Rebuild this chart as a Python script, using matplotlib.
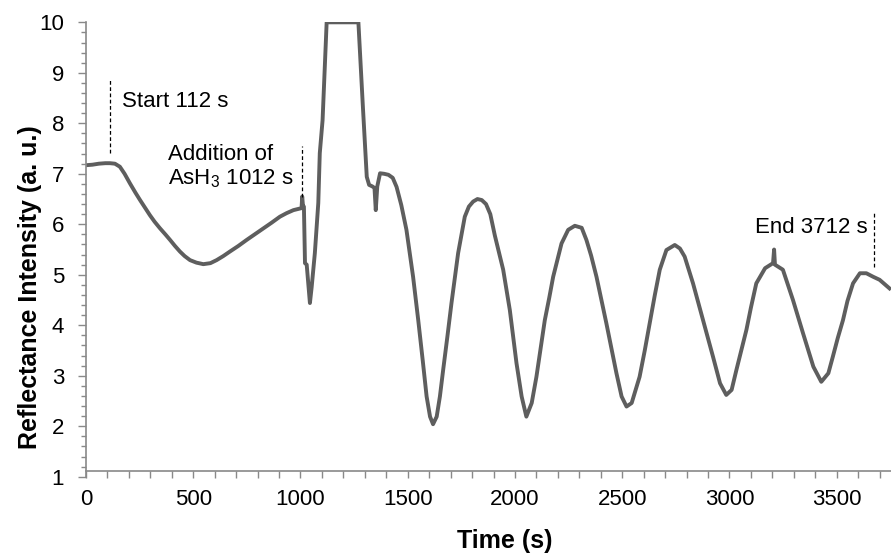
import matplotlib
matplotlib.use('Agg')
import matplotlib.pyplot as plt
from matplotlib.ticker import MultipleLocator

plt.rcParams['font.family'] = ['Liberation Sans', 'DejaVu Sans']
plt.rcParams['mathtext.default'] = 'regular'

# reflectance trace (time in s, intensity in a.u.)
time = [0, 30, 60, 90, 112, 135, 158, 180, 205, 230, 252, 275, 298, 320,
        345, 370, 392, 415, 438, 460, 485, 515, 547, 580, 609, 640, 671,
        710, 749, 790, 827, 865, 904, 935, 967, 1005, 1008, 1012, 1016,
        1021, 1029, 1037, 1044, 1052, 1067, 1083, 1090, 1103, 1122, 1270,
        1290, 1309, 1320, 1335, 1345, 1351, 1358, 1371, 1390, 1410, 1430,
        1448, 1470, 1494, 1525, 1549, 1570, 1588, 1604, 1618, 1635, 1650,
        1665, 1685, 1704, 1735, 1766, 1785, 1805, 1825, 1845, 1865, 1885,
        1906, 1925, 1945, 1976, 2007, 2031, 2053, 2078, 2100, 2120, 2139,
        2160, 2178, 2217, 2248, 2279, 2311, 2333, 2355, 2380, 2426, 2473,
        2497, 2520, 2544, 2581, 2605, 2628, 2652, 2675, 2706, 2745, 2769,
        2791, 2830, 2877, 2923, 2956, 2985, 3010, 3032, 3055, 3079, 3100,
        3125, 3166, 3203, 3208, 3212, 3249, 3296, 3343, 3391, 3428, 3461,
        3482, 3505, 3529, 3550, 3576, 3608, 3638, 3670, 3700, 3746]
intensity = [7.17, 7.18, 7.2, 7.21, 7.21, 7.2, 7.14, 7.0, 6.81, 6.63, 6.48,
             6.33, 6.18, 6.05, 5.92, 5.8, 5.69, 5.57, 5.46, 5.37, 5.29, 5.24,
             5.21, 5.23, 5.29, 5.37, 5.46, 5.57, 5.69, 5.81, 5.92, 6.03,
             6.15, 6.22, 6.28, 6.32, 6.55, 6.35, 6.35, 5.23, 5.2, 4.8, 4.44,
             4.75, 5.43, 6.42, 7.41, 8.06, 10.0, 10.0, 8.4, 6.94, 6.78, 6.75,
             6.72, 6.28, 6.75, 7.01, 7.0, 6.98, 6.92, 6.74, 6.38, 5.89, 4.96,
             4.1, 3.3, 2.59, 2.19, 2.04, 2.19, 2.59, 3.11, 3.78, 4.44, 5.43,
             6.15, 6.35, 6.45, 6.5, 6.48, 6.4, 6.2, 5.78, 5.45, 5.1, 4.3,
             3.25, 2.59, 2.19, 2.46, 2.98, 3.55, 4.1, 4.55, 4.96, 5.62, 5.89,
             5.97, 5.93, 5.69, 5.38, 4.96, 4.04, 3.05, 2.59, 2.39, 2.46, 2.98,
             3.5, 4.04, 4.6, 5.1, 5.49, 5.59, 5.52, 5.36, 4.83, 4.1, 3.38,
             2.85, 2.62, 2.72, 3.11, 3.5, 3.91, 4.35, 4.83, 5.13, 5.23, 5.5,
             5.2, 5.1, 4.5, 3.84, 3.18, 2.88, 3.05, 3.38, 3.75, 4.1, 4.48,
             4.83, 5.03, 5.03, 4.96, 4.9, 4.73]

# marker lines: x, y bottom, y top
start_mark = (113, 7.41, 8.86)
arsine_mark = (1009, 6.55, 7.56)
end_mark = (3675, 5.16, 6.25)

axis_grey = '#898989'

fig = plt.figure(figsize=(8.91, 5.54), dpi=100)
ax = fig.add_axes([0.0965, 0.1395, 0.9035, 0.8202])

ax.plot(time, intensity, color='#5e5e5e', lw=2.8, solid_joinstyle='round')

for x, y0, y1 in (start_mark, arsine_mark, end_mark):
    ax.plot([x, x], [y0, y1], color='black', lw=0.9, ls=(0, (3, 2)))

ax.text(166, 8.33, 'Start 112 s', fontsize=16, va='baseline')
ax.text(384, 7.27, 'Addition of', fontsize=16, va='baseline')
ax.text(384, 6.78, 'AsH$_3$ 1012 s', fontsize=16, va='baseline')
ax.text(3119, 5.82, 'End 3712 s', fontsize=16, va='baseline')

ax.set_xlim(0, 3753)
ax.set_ylim(1, 10)
ax.xaxis.set_major_locator(MultipleLocator(500))
ax.xaxis.set_minor_locator(MultipleLocator(100))
ax.yaxis.set_major_locator(MultipleLocator(1))
ax.yaxis.set_minor_locator(MultipleLocator(0.2))

ax.spines['top'].set_visible(False)
ax.spines['right'].set_visible(False)
ax.spines['left'].set_color(axis_grey)
ax.spines['bottom'].set_color(axis_grey)
ax.spines['bottom'].set_position(('data', 1.11))
ax.spines['left'].set_linewidth(1.2)
ax.spines['bottom'].set_linewidth(1.2)

ax.tick_params(axis='both', which='both', direction='out', color=axis_grey,
               width=1.0, labelsize=16)
ax.tick_params(axis='x', which='both', length=5, pad=8)
ax.tick_params(axis='y', which='major', length=5.8, pad=10)
ax.tick_params(axis='y', which='minor', length=3.6)

ax.set_xlabel('Time (s)', fontsize=18, fontweight='bold')
ax.xaxis.set_label_coords(0.52, -0.115)
ax.set_ylabel('Reflectance Intensity (a. u.)', fontsize=18,
              fontweight='bold', va='center')
ax.yaxis.set_label_coords(-0.07, 0.417)

fig.savefig('out.png', dpi=100)
